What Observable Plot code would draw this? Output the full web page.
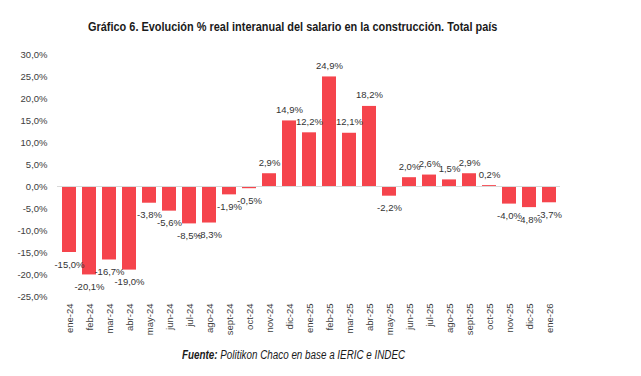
<!DOCTYPE html>
<html><head><meta charset="utf-8">
<script src="https://cdn.jsdelivr.net/npm/d3@7"></script>
<script src="https://cdn.jsdelivr.net/npm/@observablehq/plot@0.6"></script>
<style>
body{margin:0;background:#fff;width:641px;height:376px;overflow:hidden;position:relative;font-family:"Liberation Sans",Arial,sans-serif}
#title{position:absolute;left:88px;top:19px;font-family:"Liberation Sans",sans-serif;font-weight:bold;font-size:13.5px;color:#1a1a1a;white-space:nowrap;transform:scaleX(0.81);transform-origin:0 50%}
#chart{position:absolute;left:0;top:45px}
#caption{position:absolute;left:182px;top:348px;font-family:"Liberation Sans",sans-serif;font-style:italic;font-size:12px;color:#1a1a1a;white-space:nowrap;transform:scaleX(0.82);transform-origin:0 50%}
</style></head>
<body>
<div id="title">Gráfico 6. Evolución % real interanual del salario en la construcción. Total país</div>
<div id="chart"></div>
<div id="caption"><b>Fuente:</b> Politikon Chaco en base a IERIC e INDEC</div>
<script>
const months = ["ene-24","feb-24","mar-24","abr-24","may-24","jun-24","jul-24","ago-24","sept-24","oct-24","nov-24","dic-24","ene-25","feb-25","mar-25","abr-25","may-25","jun-25","jul-25","ago-25","sept-25","oct-25","nov-25","dic-25","ene-26"];
const values = [-15.0,-20.1,-16.7,-19.0,-3.8,-5.6,-8.5,-8.3,-1.9,-0.5,2.9,14.9,12.2,24.9,12.1,18.2,-2.2,2.0,2.6,1.5,2.9,0.2,-4.0,-4.8,-3.7];
const yTicks = [-25,-20,-15,-10,-5,0,5,10,15,20,25,30];

const data = months.map((m,i)=>({m, v: values[i]}));
const fmt = d => d.toFixed(1).replace(".", ",") + "%";
const red = "#f5444c";

const plot = Plot.plot({
  width: 641, height: 300,
  marginTop: 9, marginBottom: 49, marginLeft: 57, marginRight: 81,
  style: {fontFamily: "Liberation Sans, Arial, sans-serif", fontSize: "9.5px", color: "#404040", background: "#fff"},
  x: {domain: months, paddingInner: 0.3, paddingOuter: 0.1, label: null, tickSize: 0, tickPadding: 7, tickRotate: -90},
  y: {domain: [-25, 30], ticks: yTicks, tickFormat: fmt, label: null, tickSize: 0, tickPadding: 10},
  marks: [
    Plot.barY(data, {x: "m", y: "v", fill: red}),
    Plot.ruleY([0], {stroke: "#d9d9d9", strokeWidth: 1}),
    Plot.text(data.filter(d => d.v >= 0), {x: "m", y: "v", text: d => fmt(d.v), dy: -11, fill: "#333", fontSize: 9.5}),
    Plot.text(data.filter(d => d.v < 0), {x: "m", y: "v", text: d => fmt(d.v), dy: 12, fill: "#333", fontSize: 9.5})
  ]
});
document.getElementById("chart").appendChild(plot);
</script>
</body></html>
